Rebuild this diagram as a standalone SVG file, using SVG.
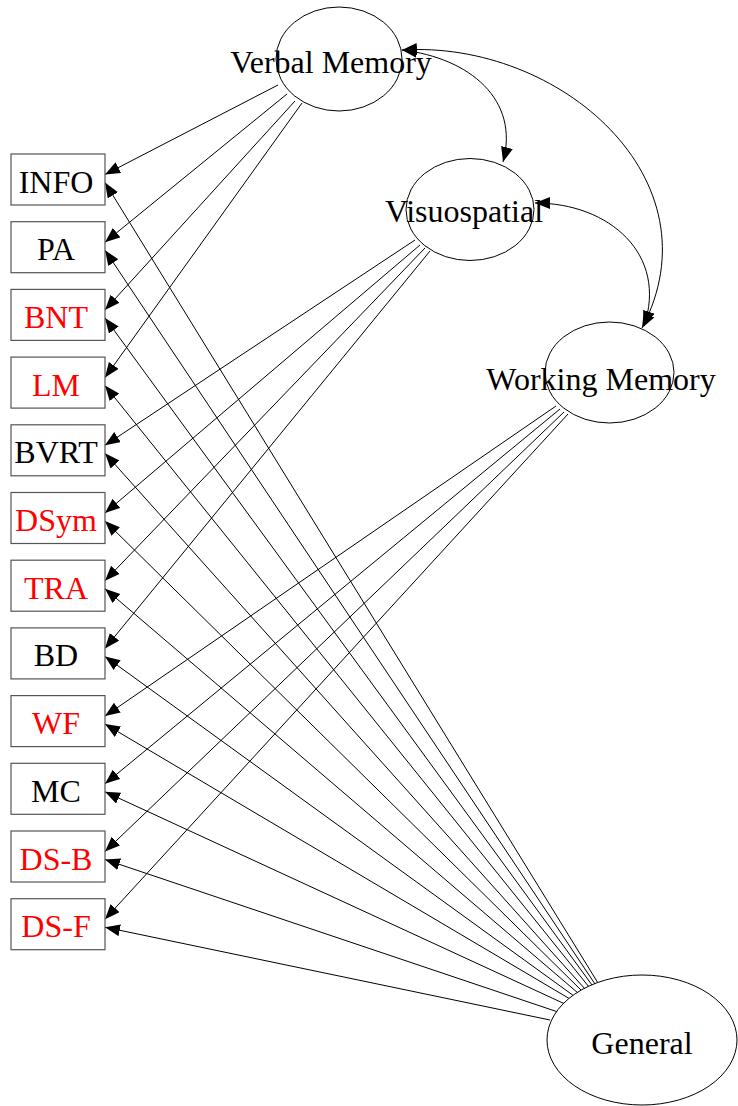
<svg xmlns="http://www.w3.org/2000/svg" width="738" height="1106" viewBox="0 0 738 1106">
<style>
.box{fill:#fff;stroke:#555;stroke-width:1.2}
.ell{fill:#fff;stroke:#000;stroke-width:1}
text{font-family:"Liberation Serif","Times New Roman",serif;font-size:32px;text-anchor:middle;fill:#000}
.red{fill:#f00}
.e line,.e path{stroke:#000;stroke-width:1;fill:none;marker-end:url(#ah)}
.e path{marker-start:url(#ah)}
</style>
<defs>
<marker id="ah" markerUnits="userSpaceOnUse" markerWidth="16" markerHeight="13" refX="15" refY="6" orient="auto-start-reverse" viewBox="0 0 16 13">
<path d="M0,0 L15,6 L0,12 z" fill="#000"/>
</marker>
</defs>
<rect width="738" height="1106" fill="#fff"/>
<g id="connectors" class="e">
<line x1="278" y1="85" x2="105" y2="174.5"/>
<line x1="287" y1="94" x2="105" y2="242.2"/>
<line x1="295" y1="101" x2="105" y2="309.9"/>
<line x1="302" y1="103" x2="105" y2="377.6"/>
<line x1="415" y1="240" x2="105" y2="445.3"/>
<line x1="420" y1="245" x2="105" y2="513"/>
<line x1="425" y1="248" x2="105" y2="580.7"/>
<line x1="430" y1="251" x2="105" y2="648.4"/>
<line x1="556" y1="406" x2="105" y2="716.1"/>
<line x1="560" y1="409" x2="105" y2="783.8"/>
<line x1="564" y1="412" x2="105" y2="851.5"/>
<line x1="568" y1="414" x2="105" y2="919.2"/>
<line x1="598" y1="983" x2="105" y2="182.5"/>
<line x1="595" y1="984" x2="105" y2="250.2"/>
<line x1="592" y1="985" x2="105" y2="317.9"/>
<line x1="589" y1="987" x2="105" y2="385.6"/>
<line x1="585" y1="989" x2="105" y2="453.3"/>
<line x1="582" y1="991" x2="105" y2="521"/>
<line x1="578" y1="993" x2="105" y2="588.7"/>
<line x1="574" y1="996" x2="105" y2="656.4"/>
<line x1="570" y1="999" x2="105" y2="724.1"/>
<line x1="565" y1="1004" x2="105" y2="791.8"/>
<line x1="558" y1="1012" x2="105" y2="859.5"/>
<line x1="550" y1="1020" x2="105" y2="927.2"/>
<path d="M402,50 C470,58 520,100 503,162"/>
<path d="M402,50 C560,40 720,180 642,328"/>
<path d="M535,203 C610,203 668,255 644,326"/>
</g>
<g id="n-verbal"><ellipse class="ell" cx="339" cy="59" rx="63" ry="52"/><text x="331" y="73">Verbal Memory</text></g>
<g id="n-visuo"><ellipse class="ell" cx="470" cy="209.5" rx="64" ry="51"/><text x="464" y="222">Visuospatial</text></g>
<g id="n-working"><ellipse class="ell" cx="609.5" cy="372.5" rx="64.5" ry="50.5"/><text x="601" y="390">Working Memory</text></g>
<g id="n-general"><ellipse class="ell" cx="642" cy="1040" rx="95" ry="65"/><text x="642" y="1054">General</text></g>
<g id="n-info"><rect class="box" x="11" y="154" width="94" height="51"/><text x="56" y="192.5">INFO</text></g>
<g id="n-pa"><rect class="box" x="11" y="221.7" width="94" height="51"/><text x="56" y="260.2">PA</text></g>
<g id="n-bnt"><rect class="box" x="11" y="289.4" width="94" height="51"/><text class="red" x="56" y="327.9">BNT</text></g>
<g id="n-lm"><rect class="box" x="11" y="357.1" width="94" height="51"/><text class="red" x="56" y="395.6">LM</text></g>
<g id="n-bvrt"><rect class="box" x="11" y="424.8" width="94" height="51"/><text x="56" y="463.3">BVRT</text></g>
<g id="n-dsym"><rect class="box" x="11" y="492.5" width="94" height="51"/><text class="red" x="56" y="531">DSym</text></g>
<g id="n-tra"><rect class="box" x="11" y="560.2" width="94" height="51"/><text class="red" x="56" y="598.7">TRA</text></g>
<g id="n-bd"><rect class="box" x="11" y="627.9" width="94" height="51"/><text x="56" y="666.4">BD</text></g>
<g id="n-wf"><rect class="box" x="11" y="695.6" width="94" height="51"/><text class="red" x="56" y="734.1">WF</text></g>
<g id="n-mc"><rect class="box" x="11" y="763.3" width="94" height="51"/><text x="56" y="801.8">MC</text></g>
<g id="n-dsb"><rect class="box" x="11" y="831" width="94" height="51"/><text class="red" x="56" y="869.5">DS-B</text></g>
<g id="n-dsf"><rect class="box" x="11" y="898.7" width="94" height="51"/><text class="red" x="56" y="937.2">DS-F</text></g>
</svg>
